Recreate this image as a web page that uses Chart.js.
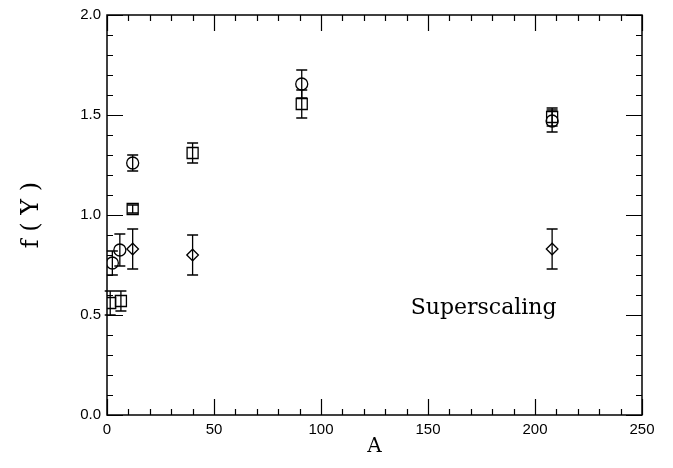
<!DOCTYPE html>
<html>
<head>
<meta charset="utf-8">
<script src="https://cdn.jsdelivr.net/npm/chart.js@4/dist/chart.umd.min.js"></script>
<style>
  html, body { margin: 0; padding: 0; background: #ffffff; }
  #wrap { width: 673px; height: 468px; position: relative; }
</style>
</head>
<body>
<div id="wrap"><canvas id="c" width="673" height="468"></canvas></div>
<script>
// ---- data ----
const circleA   = [2.5, 6, 12, 91, 208];
const circleF   = [0.76, 0.825, 1.26, 1.655, 1.47];
const circleErr = [0.06, 0.08, 0.04, 0.07, 0.055];

const squareA   = [1.5, 6.5, 12, 40, 91, 208];
const squareF   = [0.56, 0.57, 1.03, 1.31, 1.555, 1.49];
const squareErr = [0.06, 0.05, 0.02, 0.05, 0.07, 0.045];

const diamondA   = [12, 40, 208];
const diamondF   = [0.83, 0.80, 0.83];
const diamondErr = [0.10, 0.10, 0.10];

const xTicks = [0, 50, 100, 150, 200, 250];
const yTicks = [0.0, 0.5, 1.0, 1.5, 2.0];
const xTitle = 'A';
const yTitle = 'f ( Y )';
const annotation = 'Superscaling';

function pts(xs, ys, es) {
  return xs.map((x, i) => ({ x: x, y: ys[i], e: es[i] }));
}

const frameAndTicks = {
  id: 'frameAndTicks',
  afterDraw(chart) {
    const { ctx, chartArea: a, scales } = chart;
    const xs = scales.x, ys = scales.y;
    ctx.save();
    ctx.strokeStyle = '#000';
    ctx.lineWidth = 1.5;
    ctx.strokeRect(a.left, a.top, a.right - a.left, a.bottom - a.top);
    ctx.lineWidth = 1.2;
    ctx.beginPath();
    for (let v = 0; v <= 250; v += 10) {
      const px = Math.round(xs.getPixelForValue(v)) + 0.5;
      const len = (v % 50 === 0) ? 16 : 6;
      ctx.moveTo(px, a.bottom); ctx.lineTo(px, a.bottom - len);
      ctx.moveTo(px, a.top); ctx.lineTo(px, a.top + len);
    }
    for (let k = 0; k <= 20; k++) {
      const v = k / 10;
      const py = Math.round(ys.getPixelForValue(v)) + 0.5;
      const len = (k % 5 === 0) ? 16 : 6;
      ctx.moveTo(a.left, py); ctx.lineTo(a.left + len, py);
      ctx.moveTo(a.right, py); ctx.lineTo(a.right - len, py);
    }
    ctx.stroke();
    ctx.fillStyle = '#000';
    ctx.font = '22px "DejaVu Serif"';
    ctx.textAlign = 'center';
    ctx.textBaseline = 'middle';
    ctx.fillText(annotation, xs.getPixelForValue(176), ys.getPixelForValue(0.535));
    ctx.restore();
  }
};

const errorBars = {
  id: 'errorBars',
  afterDatasetsDraw(chart) {
    const { ctx, scales } = chart;
    const xs = scales.x, ys = scales.y;
    ctx.save();
    ctx.strokeStyle = '#000';
    ctx.lineWidth = 1.3;
    chart.data.datasets.forEach(ds => {
      ds.data.forEach(p => {
        const px = xs.getPixelForValue(p.x);
        const y1 = ys.getPixelForValue(p.y + p.e);
        const y2 = ys.getPixelForValue(p.y - p.e);
        ctx.beginPath();
        ctx.moveTo(px, y1); ctx.lineTo(px, y2);
        ctx.moveTo(px - 5.5, y1); ctx.lineTo(px + 5.5, y1);
        ctx.moveTo(px - 5.5, y2); ctx.lineTo(px + 5.5, y2);
        ctx.stroke();
      });
    });
    ctx.restore();
  }
};

const common = {
  showLine: false,
  borderColor: '#000',
  backgroundColor: 'rgba(0,0,0,0)',
  pointBackgroundColor: 'rgba(0,0,0,0)',
  pointBorderColor: '#000',
  pointBorderWidth: 1.3,
  pointHoverRadius: 6
};

new Chart(document.getElementById('c'), {
  type: 'scatter',
  data: {
    datasets: [
      Object.assign({ label: 'circles', data: pts(circleA, circleF, circleErr), pointStyle: 'circle', pointRadius: 6 }, common),
      Object.assign({ label: 'squares', data: pts(squareA, squareF, squareErr), pointStyle: 'rect', pointRadius: 7.8 }, common),
      Object.assign({ label: 'diamonds', data: pts(diamondA, diamondF, diamondErr), pointStyle: 'rectRot', pointRadius: 5.8 }, common)
    ]
  },
  options: {
    responsive: false,
    animation: false,
    events: [],
    layout: { padding: { top: 11, right: 31, bottom: 0, left: 0 } },
    plugins: { legend: { display: false }, tooltip: { enabled: false } },
    scales: {
      x: {
        type: 'linear', min: 0, max: 250,
        afterBuildTicks: s => { s.ticks = xTicks.map(v => ({ value: v })); },
        afterFit: s => { s.height = 53; },
        grid: { display: false, drawTicks: false },
        border: { display: false },
        ticks: { color: '#000', padding: 6, maxRotation: 0, font: { family: '"Liberation Sans"', size: 15 },
                 callback: v => String(v) },
        title: { display: true, text: xTitle, color: '#000', padding: { top: 0, bottom: 9 },
                 font: { family: '"DejaVu Serif"', size: 20 } }
      },
      y: {
        type: 'linear', min: 0, max: 2,
        afterBuildTicks: s => { s.ticks = yTicks.map(v => ({ value: v })); },
        afterFit: s => { s.width = 107; },
        grid: { display: false, drawTicks: false },
        border: { display: false },
        ticks: { color: '#000', padding: 6, font: { family: '"Liberation Sans"', size: 15 },
                 callback: v => Number(v).toFixed(1) },
        title: { display: true, text: yTitle, color: '#000', padding: { top: 17, bottom: 0 },
                 font: { family: '"DejaVu Serif"', size: 24 } }
      }
    }
  },
  plugins: [errorBars, frameAndTicks]
});
</script>
</body>
</html>
